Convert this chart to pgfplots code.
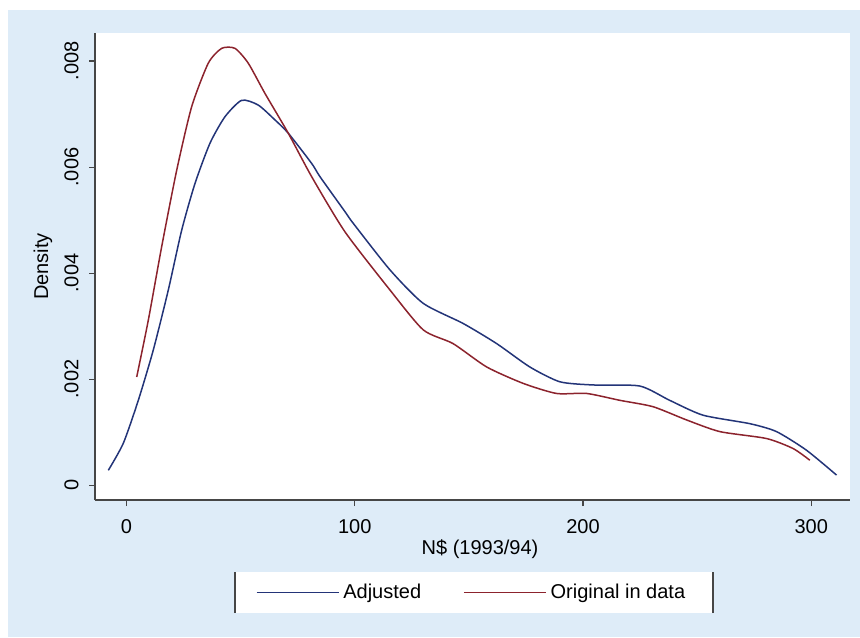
\documentclass[border=0pt]{standalone}
\usepackage{fontspec}
\setmainfont{Liberation Sans}
\usepackage{pgfplots}
\pgfplotsset{compat=1.18}

\definecolor{bgblue}{RGB}{222,236,248}
\definecolor{adjblue}{RGB}{35,52,120}
\definecolor{origred}{RGB}{140,35,45}
\definecolor{axgray}{RGB}{70,70,70}

\begin{document}
\begin{tikzpicture}
\useasboundingbox (0,0) rectangle (430pt,318.5pt);
\fill[white] (0,0) rectangle (430pt,318.5pt);
\fill[bgblue] (4pt,0) rectangle (430pt,313.5pt);
% legend box (Stata style: white, with side rules)
\fill[white] (117.5pt,12pt) rectangle (356.5pt,32.5pt);
\draw[axgray, line width=0.6pt] (117.5pt,12pt) -- (117.5pt,32.5pt);
\draw[axgray, line width=0.6pt] (356.5pt,12pt) -- (356.5pt,32.5pt);

\begin{axis}[
    at={(47.5pt,68.5pt)}, anchor=south west,
    scale only axis, width=377.5pt, height=233.5pt,
    xmin=-13.8, xmax=317,
    ymin=-0.00028, ymax=0.00853,
    axis x line*=bottom, axis y line*=left,
    axis line style={axgray, line width=0.6pt, -},
    axis background/.style={fill=white},
    tick align=outside, major tick length=3pt,
    tick style={axgray, line width=0.6pt},
    xtick={0,100,200,300},
    ytick={0,0.002,0.004,0.006,0.008},
    yticklabels={0,.002,.004,.006,.008},
    scaled y ticks=false,
    /pgf/number format/assume math mode=true,
    xticklabel style={yshift=-3pt},
    yticklabel style={rotate=90, anchor=south, inner sep=5pt},
    xlabel={N\$ (1993/94)},
    ylabel={Density},
    xlabel style={at={(axis description cs:0.51,-0.105)}, anchor=center},
    ylabel style={at={(axis description cs:-0.0689,0.5)}, anchor=center},
    legend style={at={(axis description cs:0.5,-0.198)}, anchor=center,
        draw=none, fill=none, legend columns=2,
        /tikz/every even column/.append style={column sep=19pt}},
    legend image code/.code={\draw[#1] (0pt,0pt) -- (41pt,0pt);},
]

\addplot[adjblue, line width=0.75pt, smooth, tension=0.4] coordinates {
(-7.97,0.00028)(-1.4,0.00079)(5.17,0.00160)(11.74,0.00255)(18.31,0.00368)
(24.18,0.00481)(30.0,0.00569)(36.57,0.00645)(43.14,0.00695)(50.46,0.00726)
(57.73,0.00717)(65.05,0.00689)(70.87,0.00664)(81.12,0.00607)(84.76,0.00582)
(95.71,0.00516)(99.34,0.00494)(115.46,0.00406)(130.0,0.00343)(147.5,0.00305)
(162.2,0.00267)(176.7,0.00223)(189.9,0.00195)(204.5,0.00189)(224.9,0.00187)
(238.0,0.00160)(252.6,0.00132)(273.1,0.00116)(284.8,0.00101)(297.9,0.00066)
(311.1,0.00019)
};
\addlegendentry{Adjusted}

\addplot[origred, line width=0.75pt, smooth, tension=0.4] coordinates {
(4.47,0.00204)(9.55,0.00311)(15.42,0.00450)(21.99,0.00594)(28.56,0.00714)
(35.83,0.00796)(41.70,0.00824)(47.53,0.00824)(53.35,0.00796)(60.67,0.00739)
(70.87,0.00664)(81.12,0.00582)(95.71,0.00478)(115.46,0.00368)(130.0,0.00293)
(143.1,0.00267)(157.8,0.00223)(173.8,0.00192)(188.4,0.00173)(201.6,0.00173)
(216.2,0.00160)(230.7,0.00148)(245.4,0.00123)(260.0,0.00101)(280.4,0.00088)
(292.1,0.00069)(299.4,0.00047)
};
\addlegendentry{Original in data}

\end{axis}
\end{tikzpicture}
\end{document}
